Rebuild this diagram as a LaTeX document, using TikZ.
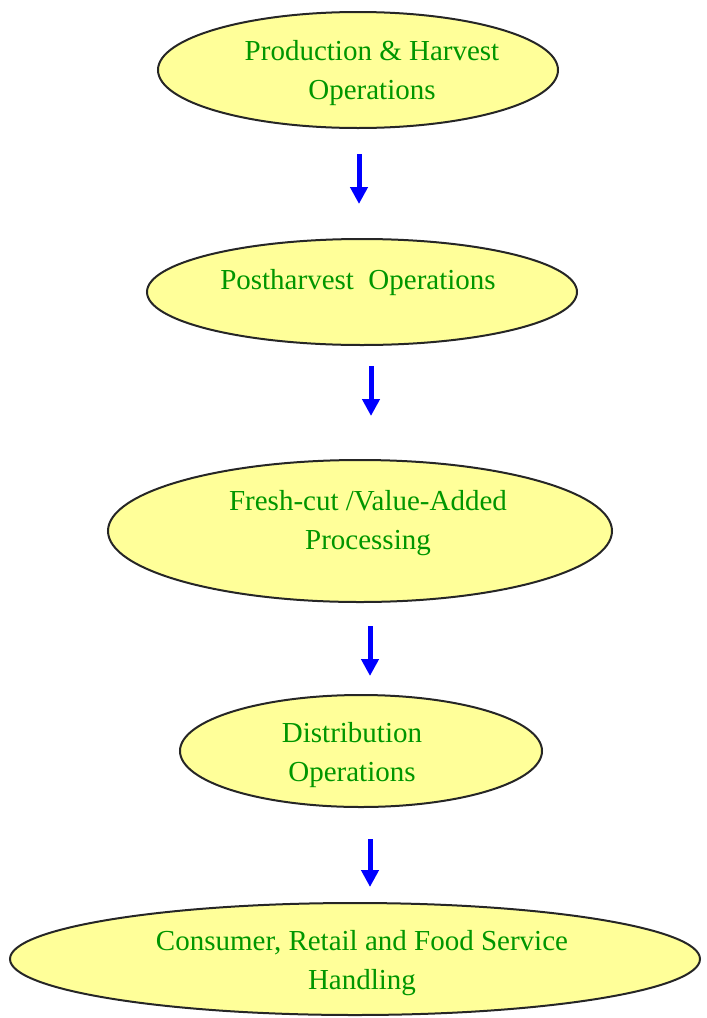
\documentclass[tikz,border=0pt]{standalone}
\usepackage{fontspec}
\setmainfont{Liberation Serif}
\usetikzlibrary{shapes.geometric,arrows.meta}

\definecolor{stagefill}{RGB}{255,255,153}
\definecolor{stagetext}{RGB}{0,150,0}
\definecolor{flowblue}{RGB}{0,0,255}

\tikzset{
  stage/.style={ellipse, draw=black!85, line width=2pt, fill=stagefill, inner sep=0pt},
  stagelabel/.style={text=stagetext, align=center, font=\fontsize{29}{39}\selectfont, inner sep=0pt},
  flow/.style={draw=flowblue, line width=5pt, -{Triangle[width=17pt,length=17pt]}}
}

\begin{document}
\begin{tikzpicture}[x=1pt,y=-1pt]
\useasboundingbox (0,0) rectangle (707,1018);

% the five stages, top to bottom
\node[stage, minimum width=400pt, minimum height=116pt] (prod) at (358,70) {};
\node[stage, minimum width=430pt, minimum height=106pt] (post) at (362,292) {};
\node[stage, minimum width=504pt, minimum height=142pt] (fresh) at (360,531) {};
\node[stage, minimum width=362pt, minimum height=112pt] (dist) at (361,751) {};
\node[stage, minimum width=690pt, minimum height=112pt] (cons) at (355,959) {};

\node[stagelabel] (prodText) at ([xshift=14pt,yshift=-3pt]prod.center) {Production \& Harvest\\Operations};
\node[stagelabel] (postText) at ([xshift=-4pt,yshift=9pt]post.center) {Postharvest~~Operations};
\node[stagelabel] (freshText) at ([xshift=8pt,yshift=8pt]fresh.center) {Fresh-cut /Value-Added\\Processing};
\node[stagelabel] (distText) at ([xshift=-9pt,yshift=-4pt]dist.center) {Distribution\\Operations};
\node[stagelabel] (consText) at ([xshift=7pt,yshift=-4pt]cons.center) {Consumer, Retail and Food Service\\Handling};

% short arrows between the stages
\draw[flow] ([xshift=1pt,yshift=-25pt]prod.south) -- ([xshift=-3pt,yshift=34pt]post.north);
\draw[flow] ([xshift=9pt,yshift=-20pt]post.south) -- ([xshift=11pt,yshift=43pt]fresh.north);
\draw[flow] ([xshift=10pt,yshift=-23pt]fresh.south) -- ([xshift=9pt,yshift=18pt]dist.north);
\draw[flow] ([xshift=9pt,yshift=-31pt]dist.south) -- ([xshift=15pt,yshift=15pt]cons.north);
\end{tikzpicture}
\end{document}
